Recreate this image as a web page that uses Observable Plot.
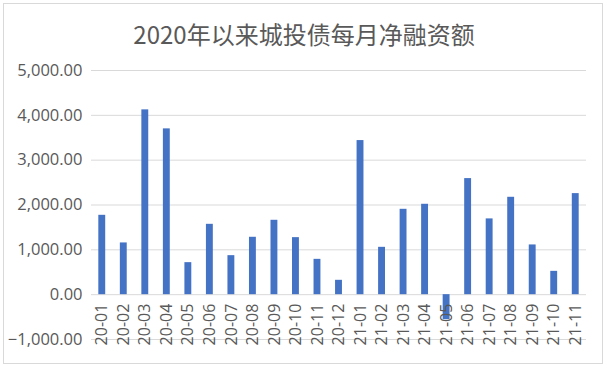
<!DOCTYPE html>
<html>
<head>
<meta charset="utf-8">
<script src="https://cdn.jsdelivr.net/npm/d3@7"></script>
<script src="https://cdn.jsdelivr.net/npm/@observablehq/plot@0.6"></script>
<style>
  html, body { margin: 0; padding: 0; background: #fff; }
  #wrap { position: relative; width: 608px; height: 369px; overflow: hidden; }
  #border { position: absolute; left: 3px; top: 3px; width: 600px; height: 361px; border: 1px solid #d9d9d9; box-sizing: border-box; pointer-events: none; }
  #title { box-sizing: border-box; height: 55px; padding-top: 21px; text-align: center; font-family: "Noto Sans CJK SC", "Open Sans", sans-serif; font-size: 24px; line-height: 26px; color: #595959; }
  #chart svg { display: block; }
</style>
</head>
<body>
<div id="wrap">
  <div id="border"></div>
  <div id="title">2020年以来城投债每月净融资额</div>
  <div id="chart"></div>
</div>
<script>
const months = ["20-01","20-02","20-03","20-04","20-05","20-06","20-07","20-08","20-09","20-10","20-11","20-12",
                "21-01","21-02","21-03","21-04","21-05","21-06","21-07","21-08","21-09","21-10","21-11"];
const values = [1770, 1154, 4122, 3698, 714, 1569, 870, 1280, 1659, 1272, 788, 320,
                3437, 1056, 1904, 2016, -560, 2589, 1690, 2172, 1109, 520, 2254];
const yTicks = [-1000, 0, 1000, 2000, 3000, 4000, 5000];

const data = months.map((m, i) => ({month: m, value: values[i]}));
const fmt = d3.format(",.2f");

const chart = Plot.plot({
  width: 608,
  height: 314,
  marginTop: 15,
  marginBottom: 30,
  marginLeft: 91,
  marginRight: 22,
  style: {fontFamily: "'Open Sans', sans-serif", fontSize: "16px", color: "#595959", background: "transparent"},
  x: {domain: months, paddingInner: 0.68, paddingOuter: 0.34, round: false, axis: null},
  y: {domain: [-1000, 5000], ticks: yTicks, tickFormat: fmt, tickSize: 0, tickPadding: 9, label: null},
  marks: [
    Plot.gridY(yTicks, {stroke: "#d9d9d9", strokeOpacity: 1, strokeWidth: 1}),
    Plot.axisY(yTicks, {tickFormat: fmt, tickSize: 0, tickPadding: 9, fill: "#595959", fontSize: 16.5}),
    Plot.barY(data, {x: "month", y: "value", fill: "#4472C4"}),
    Plot.text(months, {x: d => d, y: () => 0, text: d => d, rotate: -90, textAnchor: "end", lineAnchor: "middle", dy: 9, fill: "#595959", fontSize: 16})
  ]
});
document.getElementById("chart").appendChild(chart);
</script>
</body>
</html>
